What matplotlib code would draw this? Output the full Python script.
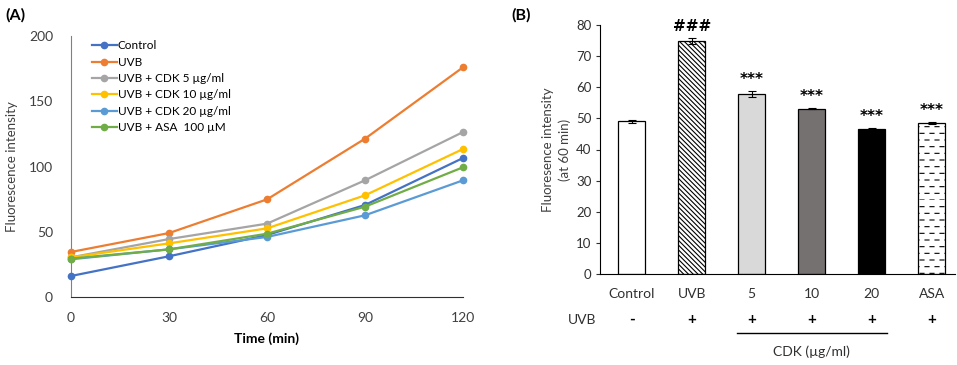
import matplotlib
matplotlib.use("Agg")
import matplotlib.pyplot as plt
import matplotlib.transforms as mtransforms
from matplotlib import hatch as mhatch
from matplotlib.path import Path
import numpy as np

# Panel A: fluorescence over time
time_min = [0, 30, 60, 90, 120]
series_names = ["Control", "UVB", "UVB + CDK 5 \u00b5g/ml", "UVB + CDK 10 \u00b5g/ml",
                "UVB + CDK 20 \u00b5g/ml", "UVB + ASA  100 \u00b5M"]
control = [16.1, 31.2, 47.5, 70.5, 106.5]
uvb = [34.5, 49.0, 74.8, 121.3, 176.0]
cdk5 = [30.4, 44.4, 56.2, 89.4, 126.4]
cdk10 = [30.4, 41.1, 52.6, 77.9, 113.4]
cdk20 = [28.9, 36.5, 46.0, 62.6, 89.4]
asa = [29.4, 36.5, 48.5, 69.2, 99.4]

# Panel B: fluorescence at 60 min
bar_labels = ["Control", "UVB", "5", "10", "20", "ASA"]
bar_values = [49.0, 74.8, 57.9, 53.1, 46.7, 48.6]
bar_errors = [0.6, 1.0, 1.0, 0.2, 0.3, 0.3]
uvb_signs = ["-", "+", "+", "+", "+", "+"]
bar_marks = ["", "###", "***", "***", "***", "***"]


# dashed horizontal hatch (Excel style) used in place of the plain '-' hatch
class DashedHorizontalHatch(mhatch.HatchPatternBase):
    rows = 15
    dashes = 10

    def __init__(self, hatch, density):
        n = self.rows if ("-" in hatch or "+" in hatch) else 0
        self.num_lines = n
        self.num_vertices = n * self.dashes * 2

    def set_vertices_and_codes(self, vertices, codes):
        k = 0
        for i in range(self.num_lines):
            y = i / self.num_lines
            off = 0.5 / self.dashes if i % 2 else 0.0
            for j in range(self.dashes):
                x0 = j / self.dashes + off
                vertices[k] = (x0, y)
                vertices[k + 1] = (x0 + 0.4 / self.dashes, y)
                codes[k] = Path.MOVETO
                codes[k + 1] = Path.LINETO
                k += 2


mhatch._hatch_types[0] = DashedHorizontalHatch

FONT = ["Lato", "DejaVu Sans"]
plt.rcParams["font.family"] = FONT
plt.rcParams["hatch.linewidth"] = 0.8

W, H = 957, 365
fig = plt.figure(figsize=(W / 100, H / 100), dpi=100)


def px_box(left, top, right, bottom):
    return [left / W, 1 - bottom / H, (right - left) / W, (bottom - top) / H]


# ---------- Panel A ----------
ax_a = fig.add_axes(px_box(71, 36, 463, 297))
colors = ["#4472C4", "#ED7D31", "#A5A5A5", "#FFC000", "#5B9BD5", "#70AD47"]
for name, vals, c in zip(series_names, [control, uvb, cdk5, cdk10, cdk20, asa], colors):
    ax_a.plot(time_min, vals, color=c, lw=1.6, marker="o", ms=4.5, label=name, clip_on=False, zorder=3)

ax_a.set_xlim(0, 120)
ax_a.set_ylim(0, 200)
ax_a.set_xticks(time_min)
ax_a.set_yticks([0, 50, 100, 150, 200])
ax_a.tick_params(axis="x", length=0, pad=11, labelsize=10, colors="#404040")
ax_a.tick_params(axis="y", length=0, pad=13, labelsize=10, colors="#404040")
for s in ["top", "right"]:
    ax_a.spines[s].set_visible(False)
ax_a.spines["left"].set_color("#808080")
ax_a.spines["bottom"].set_color("#303030")
ax_a.set_xlabel("Time (min)", fontsize=10, fontweight="bold", labelpad=6)
ax_a.set_ylabel("Fluorescence intensity", fontsize=9.5, color="#404040", labelpad=8)
ax_a.legend(loc="upper left", bbox_to_anchor=(0.035, 1.01), frameon=False, fontsize=8.5,
            handlelength=2.1, handletextpad=0.1, labelspacing=0.45, borderaxespad=0.2)
fig.text(5 / W, 1 - 15 / H, "(A)", fontsize=11.5, fontweight="bold", va="center")

# ---------- Panel B ----------
ax_b = fig.add_axes(px_box(600, 25, 955, 274))
x = np.arange(len(bar_labels))
face = ["white", "white", "#D9D9D9", "#767171", "black", "white"]
hatches = [None, "\\\\\\\\\\\\\\", None, None, None, "-"]
bars = ax_b.bar(x, bar_values, width=0.45, color=face, edgecolor="black", linewidth=0.9,
                yerr=bar_errors, error_kw=dict(ecolor="black", elinewidth=0.8, capsize=3, capthick=0.8))
for b, h in zip(bars, hatches):
    if h:
        b.set_hatch(h)

for xi, v, e, m in zip(x, bar_values, bar_errors, bar_marks):
    if m:
        ax_b.text(xi, v + e + 2.3, m, ha="center", va="baseline", fontsize=11,
                  fontweight="bold", family="DejaVu Sans")

ax_b.set_xlim(-0.53, 5.39)
ax_b.set_ylim(0, 80)
ax_b.set_yticks(range(0, 81, 10))
ax_b.set_xticks(x)
ax_b.set_xticklabels(bar_labels)
ax_b.tick_params(axis="x", length=0, pad=10, labelsize=10, colors="#303030")
ax_b.tick_params(axis="y", length=3, direction="out", labelsize=9.5, colors="#303030", pad=3)
for s in ["top", "right"]:
    ax_b.spines[s].set_visible(False)
ax_b.set_ylabel("Fluoresence intensity\n(at 60 min)", fontsize=9.5, color="#404040",
                labelpad=4, linespacing=1.4)

trans = mtransforms.blended_transform_factory(ax_b.transData, fig.transFigure)
ax_b.text(-0.83, 1 - 320 / H, "UVB", transform=trans, ha="center", va="center", fontsize=10, color="#303030")
for xi, s in zip(x, uvb_signs):
    ax_b.text(xi, 1 - 320 / H, s, transform=trans, ha="center", va="center", fontsize=11, fontweight="bold")
ax_b.plot([1.75, 4.25], [1 - 333 / H] * 2, transform=trans, color="black", lw=1, clip_on=False)
ax_b.text(3, 1 - 352 / H, "CDK (\u00b5g/ml)", transform=trans, ha="center", va="center", fontsize=10, color="#303030")
fig.text(511 / W, 1 - 15 / H, "(B)", fontsize=11.5, fontweight="bold", va="center")

fig.savefig("out.png", dpi=100)
